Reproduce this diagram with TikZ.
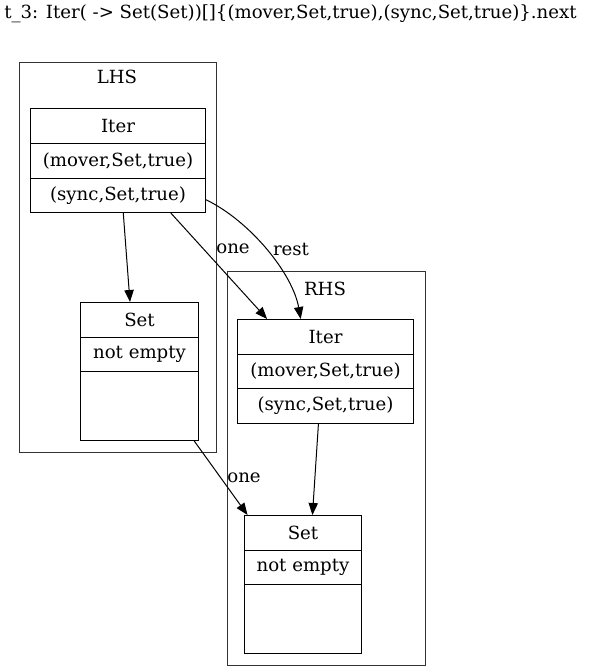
\documentclass[tikz,border=0pt]{standalone}
\usepackage{fontspec}
\setmainfont{DejaVu Serif}
\usetikzlibrary{arrows.meta,calc}
\tikzset{
  rowbox/.style n args={2}{draw=black, line width=0.75pt, anchor=north west, inner sep=0pt,
    minimum width={#1*0.75pt}, minimum height={#2*0.75pt}, font=\fontsize{13.6pt}{15pt}\selectfont},
  clusterbox/.style n args={2}{draw=black!80, line width=0.75pt, anchor=north west, inner sep=0pt,
    minimum width={#1*0.75pt}, minimum height={#2*0.75pt}},
  lbl/.style={font=\fontsize{13.6pt}{15pt}\selectfont, inner sep=0pt},
  arr/.style={draw=black, line width=0.75pt, -{Triangle[length=9pt,width=7pt]}}
}
\begin{document}
\begin{tikzpicture}[x=0.75pt,y=-0.75pt]
\useasboundingbox (0,0) rectangle (589,670);
\node[lbl, anchor=west] (title) at (4,14) {t\_3: Iter( -> Set(Set))[]\{(mover,Set,true),(sync,Set,true)\}.next};
% clusters
\node[clusterbox={197}{390}] (lhs) at (19,62) {};
\node[lbl] (lhslab) at (117,77) {LHS};
\node[clusterbox={198}{394}] (rhs) at (227,271) {};
\node[lbl] (rhslab) at (325,289) {RHS};
% LHS Iter
\node[rowbox={175}{35}] (li1) at (30,108) {Iter};
\node[rowbox={175}{35}] (li2) at (30,143) {(mover,Set,true)};
\node[rowbox={175}{34}] (li3) at (30,178) {(sync,Set,true)};
% LHS Set
\node[rowbox={118}{35}] (ls1) at (80,302) {Set};
\node[rowbox={118}{34}] (ls2) at (80,337) {not empty};
\node[rowbox={118}{69}] (ls3) at (80,371) {};
% RHS Iter
\node[rowbox={176}{35}] (ri1) at (237,319) {Iter};
\node[rowbox={176}{34}] (ri2) at (237,354) {(mover,Set,true)};
\node[rowbox={176}{35}] (ri3) at (237,388) {(sync,Set,true)};
% RHS Set
\node[rowbox={117}{35}] (rs1) at (244,515) {Set};
\node[rowbox={117}{34}] (rs2) at (244,550) {not empty};
\node[rowbox={117}{69}] (rs3) at (244,584) {};
% edges
\draw[arr] ($(li3.south west)!0.53!(li3.south east)$) -- ($(ls1.north west)!0.42!(ls1.north east)$);
\draw[arr] ($(li3.south west)!0.8!(li3.south east)$) -- ($(ri1.north west)!0.17!(ri1.north east)$);
\draw[arr] ($(li3.north east)!0.62!(li3.south east)$) .. controls +(45,22) and +(-8,-45) .. ($(ri1.north west)!0.36!(ri1.north east)$);
\draw[arr] ($(ls3.south west)!0.96!(ls3.south east)$) -- ($(rs1.north west)!0.03!(rs1.north east)$);
\draw[arr] ($(ri3.south west)!0.46!(ri3.south east)$) -- ($(rs1.north west)!0.58!(rs1.north east)$);
\node[lbl] (e1) at (233,249) {one};
\node[lbl] (e2) at (291,249) {rest};
\node[lbl] (e3) at (244,478) {one};
\end{tikzpicture}
\end{document}
